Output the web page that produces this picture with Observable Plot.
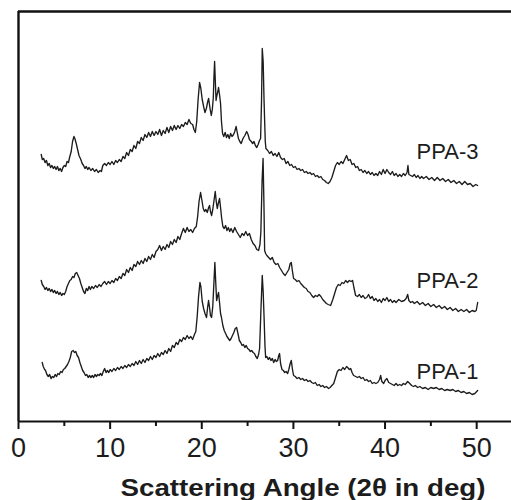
<!DOCTYPE html>
<html>
<head>
<meta charset="utf-8">
<script src="https://cdn.jsdelivr.net/npm/d3@7"></script>
<script src="https://cdn.jsdelivr.net/npm/@observablehq/plot@0.6"></script>
<style>
  html, body { margin: 0; background: #fff; overflow: hidden; }
  #chart svg { display: block; }
</style>
</head>
<body>
<div id="chart"></div>
<script>
// [scattering angle 2θ (deg), intensity (a.u.)]
const ppa3 = [[2.48,267],[2.6,262],[2.75,263],[2.9,259],[3.05,261],[3.2,256],[3.35,258],[3.5,254],[3.65,256],[3.8,253],[3.95,255],[4.1,252],[4.25,255],[4.4,251],[4.55,253],[4.7,250],[4.85,254],[5.0,256],[5.15,255],[5.3,260],[5.45,259],[5.6,265],[5.75,270],[5.9,280],[6.05,285],[6.15,283],[6.3,278],[6.45,272],[6.6,266],[6.8,262],[6.95,258],[7.1,256],[7.25,253],[7.4,255],[7.55,252],[7.7,254],[7.9,251],[8.1,253],[8.3,250],[8.5,252],[8.7,249],[8.9,251],[9.05,250],[9.2,256],[9.4,258],[9.6,256],[9.8,259],[10.0,257],[10.2,260],[10.4,257],[10.6,261],[10.8,259],[11.0,262],[11.2,260],[11.4,265],[11.6,263],[11.8,269],[12.0,266],[12.2,272],[12.4,270],[12.6,276],[12.8,273],[13.0,280],[13.2,278],[13.4,284],[13.6,281],[13.8,287],[14.0,284],[14.2,289],[14.4,285],[14.6,290],[14.8,286],[15.0,290],[15.2,287],[15.4,292],[15.6,286],[15.8,291],[16.0,288],[16.2,294],[16.4,289],[16.6,295],[16.8,291],[17.0,296],[17.2,292],[17.4,296],[17.6,293],[17.8,297],[18.0,295],[18.2,299],[18.4,297],[18.6,302],[18.8,298],[19.0,297],[19.15,292],[19.3,289],[19.45,300],[19.6,322],[19.76,339],[19.9,333],[20.05,322],[20.2,315],[20.35,309],[20.5,313],[20.65,320],[20.75,323],[20.9,313],[21.04,306],[21.15,312],[21.26,324],[21.33,345],[21.4,360],[21.48,340],[21.56,321],[21.65,326],[21.75,330],[21.83,334],[21.95,326],[22.05,318],[22.15,300],[22.27,288],[22.4,285],[22.55,289],[22.7,284],[22.85,287],[23.0,283],[23.15,288],[23.3,285],[23.47,287],[23.6,290],[23.75,295],[23.85,290],[24.0,283],[24.15,280],[24.3,278],[24.5,283],[24.7,286],[24.9,290],[25.05,287],[25.2,282],[25.4,280],[25.55,278],[25.7,280],[25.85,276],[26.0,274],[26.15,277],[26.3,281],[26.42,283],[26.52,320],[26.6,373],[26.7,360],[26.8,320],[26.86,301],[26.93,280],[27.0,273],[27.2,271],[27.4,268],[27.6,270],[27.8,266],[28.0,268],[28.2,265],[28.4,269],[28.6,264],[28.8,262],[29.0,263],[29.2,258],[29.4,260],[29.6,256],[29.8,257],[30.0,254],[30.2,255],[30.4,252],[30.6,253],[30.8,251],[31.0,252],[31.2,249],[31.4,250],[31.6,248],[31.8,249],[32.0,247],[32.2,248],[32.4,245],[32.6,246],[32.8,244],[33.0,245],[33.2,242],[33.4,241],[33.6,239],[33.8,238],[34.0,240],[34.2,244],[34.4,250],[34.6,256],[34.8,259],[35.0,257],[35.2,260],[35.4,258],[35.6,262],[35.8,266],[36.0,261],[36.2,262],[36.4,257],[36.6,258],[36.8,254],[37.0,255],[37.2,251],[37.4,252],[37.6,249],[37.8,251],[38.0,248],[38.2,250],[38.4,247],[38.6,249],[38.8,246],[39.0,248],[39.2,246],[39.4,250],[39.6,247],[39.8,252],[40.0,248],[40.2,252],[40.4,249],[40.6,247],[40.8,250],[41.0,246],[41.2,248],[41.4,245],[41.6,247],[41.8,245],[42.0,248],[42.2,246],[42.4,249],[42.5,256],[42.6,247],[42.8,246],[43.0,245],[43.2,247],[43.4,244],[43.6,246],[43.8,243],[44.0,245],[44.2,243],[44.5,245],[44.8,242],[45.1,244],[45.4,241],[45.7,244],[46.0,241],[46.3,243],[46.6,240],[46.9,242],[47.2,239],[47.5,241],[47.8,238],[48.1,240],[48.4,237],[48.7,240],[49.0,237],[49.3,238],[49.6,235],[49.9,237],[50.11,236]];

const ppa2 = [[2.48,141],[2.6,137],[2.75,135],[2.9,132],[3.05,134],[3.2,131],[3.35,133],[3.5,130],[3.65,132],[3.8,129],[3.95,131],[4.1,128],[4.25,130],[4.4,127],[4.55,129],[4.7,126],[4.85,128],[5.0,127],[5.15,130],[5.3,135],[5.45,138],[5.6,141],[5.75,142],[5.9,145],[6.05,144],[6.2,148],[6.35,149],[6.5,146],[6.65,143],[6.8,138],[6.95,134],[7.1,130],[7.25,128],[7.4,133],[7.55,131],[7.7,135],[7.85,132],[8.0,135],[8.2,133],[8.4,136],[8.6,134],[8.8,137],[9.0,135],[9.2,138],[9.4,140],[9.6,137],[9.8,140],[10.0,138],[10.2,141],[10.4,139],[10.6,143],[10.8,141],[11.0,145],[11.2,143],[11.4,148],[11.6,146],[11.8,152],[12.0,149],[12.2,154],[12.4,151],[12.6,157],[12.8,155],[13.0,160],[13.2,157],[13.4,161],[13.6,158],[13.8,163],[14.0,160],[14.2,165],[14.4,162],[14.6,167],[14.8,164],[15.0,170],[15.2,172],[15.4,176],[15.6,171],[15.8,175],[16.0,172],[16.2,177],[16.4,174],[16.6,180],[16.8,177],[17.0,182],[17.2,179],[17.4,185],[17.6,182],[17.8,188],[18.0,193],[18.2,189],[18.4,194],[18.6,190],[18.8,192],[19.0,189],[19.2,193],[19.4,195],[19.55,205],[19.7,220],[19.87,229],[20.0,222],[20.16,213],[20.3,210],[20.45,212],[20.6,209],[20.75,214],[20.85,216],[20.95,210],[21.07,206],[21.2,212],[21.35,222],[21.47,230],[21.58,220],[21.69,213],[21.8,218],[21.94,223],[22.05,214],[22.16,204],[22.3,195],[22.45,193],[22.6,196],[22.75,191],[22.9,194],[23.05,190],[23.2,193],[23.4,189],[23.6,194],[23.8,190],[24.0,187],[24.2,184],[24.4,188],[24.6,186],[24.8,190],[25.0,186],[25.2,188],[25.4,182],[25.6,178],[25.8,176],[26.0,172],[26.2,171],[26.35,177],[26.45,190],[26.58,240],[26.69,263],[26.78,220],[26.86,171],[26.97,168],[27.1,166],[27.3,164],[27.5,162],[27.7,164],[27.9,159],[28.1,157],[28.3,158],[28.5,154],[28.7,151],[28.9,148],[29.1,146],[29.3,149],[29.5,152],[29.65,158],[29.77,159],[29.9,150],[30.02,143],[30.2,142],[30.4,140],[30.6,141],[30.8,138],[31.0,136],[31.2,134],[31.4,133],[31.6,130],[31.8,129],[32.0,126],[32.2,124],[32.4,126],[32.6,125],[32.8,127],[33.0,125],[33.2,122],[33.4,120],[33.6,118],[33.8,117],[34.06,116],[34.3,122],[34.5,128],[34.7,134],[34.9,137],[35.1,136],[35.3,139],[35.5,138],[35.7,141],[35.9,139],[36.1,141],[36.3,140],[36.46,141],[36.6,134],[36.79,126],[37.0,125],[37.2,127],[37.4,124],[37.6,126],[37.8,123],[38.0,124],[38.2,127],[38.4,123],[38.6,125],[38.8,121],[39.0,123],[39.2,120],[39.4,122],[39.6,119],[39.8,123],[40.0,121],[40.2,124],[40.4,120],[40.6,122],[40.8,119],[41.0,121],[41.2,119],[41.5,122],[41.8,120],[42.1,121],[42.3,123],[42.47,127],[42.6,121],[42.8,119],[43.0,120],[43.2,118],[43.5,120],[43.8,117],[44.1,119],[44.4,116],[44.7,118],[45.0,115],[45.3,117],[45.6,114],[45.9,116],[46.2,113],[46.5,115],[46.8,112],[47.1,114],[47.4,111],[47.7,113],[48.0,110],[48.3,112],[48.6,110],[48.9,112],[49.2,109],[49.5,111],[49.8,110],[49.95,111],[50.11,119]];

const ppa1 = [[2.59,59],[2.7,55],[2.85,52],[2.95,51],[3.1,47],[3.25,45],[3.4,47],[3.55,43],[3.7,45],[3.85,44],[4.0,47],[4.15,45],[4.3,48],[4.45,47],[4.6,50],[4.75,49],[4.9,52],[5.05,53],[5.2,55],[5.35,57],[5.5,60],[5.65,64],[5.8,70],[5.97,71],[6.1,69],[6.25,70],[6.4,66],[6.55,64],[6.7,59],[6.85,55],[7.0,51],[7.15,49],[7.31,46],[7.45,47],[7.6,44],[7.75,46],[7.9,44],[8.05,46],[8.2,44],[8.35,47],[8.5,45],[8.65,47],[8.8,46],[8.95,48],[9.1,46],[9.25,50],[9.4,53],[9.55,49],[9.7,51],[9.85,49],[10.0,52],[10.2,50],[10.4,53],[10.6,51],[10.8,54],[11.0,52],[11.2,55],[11.4,53],[11.6,56],[11.8,54],[12.0,57],[12.2,55],[12.4,58],[12.6,56],[12.8,60],[13.0,57],[13.2,61],[13.4,58],[13.6,62],[13.8,59],[14.0,63],[14.2,61],[14.4,65],[14.6,62],[14.8,66],[15.0,64],[15.2,68],[15.4,65],[15.6,69],[15.8,67],[16.0,71],[16.2,68],[16.4,73],[16.6,70],[16.8,76],[17.0,74],[17.2,79],[17.4,77],[17.6,82],[17.8,80],[18.0,84],[18.2,82],[18.4,86],[18.6,83],[18.8,85],[19.0,82],[19.2,87],[19.35,90],[19.5,105],[19.65,125],[19.8,139],[19.9,135],[20.05,120],[20.2,113],[20.35,108],[20.52,104],[20.65,115],[20.74,121],[20.85,114],[20.95,106],[21.07,104],[21.2,115],[21.3,134],[21.43,159],[21.52,140],[21.62,121],[21.72,125],[21.83,129],[21.95,118],[22.05,108],[22.15,104],[22.3,96],[22.45,91],[22.6,88],[22.75,85],[22.9,83],[23.05,81],[23.2,83],[23.35,86],[23.5,89],[23.65,93],[23.8,94],[23.95,88],[24.1,81],[24.25,79],[24.4,76],[24.55,77],[24.7,74],[24.85,76],[25.0,73],[25.15,72],[25.3,70],[25.45,71],[25.6,69],[25.75,68],[25.9,65],[26.05,63],[26.2,67],[26.31,73],[26.45,110],[26.6,146],[26.7,130],[26.8,104],[26.9,75],[26.97,64],[27.1,65],[27.25,62],[27.4,64],[27.55,61],[27.7,63],[27.85,59],[28.0,62],[28.15,60],[28.28,61],[28.4,66],[28.49,68],[28.6,58],[28.75,52],[28.9,51],[29.05,49],[29.2,50],[29.37,48],[29.5,52],[29.65,58],[29.77,61],[29.9,52],[30.02,46],[30.2,45],[30.4,43],[30.6,44],[30.8,42],[31.0,43],[31.2,41],[31.4,42],[31.6,40],[31.8,41],[32.0,39],[32.2,38],[32.4,39],[32.6,36],[32.8,37],[33.0,35],[33.2,36],[33.4,34],[33.6,35],[33.84,33],[34.0,34],[34.2,36],[34.4,38],[34.6,44],[34.8,50],[35.0,52],[35.2,51],[35.4,54],[35.6,52],[35.8,55],[35.92,54],[36.1,52],[36.25,53],[36.4,49],[36.57,46],[36.8,45],[37.0,44],[37.2,45],[37.4,43],[37.6,44],[37.8,41],[38.0,42],[38.2,40],[38.4,41],[38.6,38],[38.8,39],[39.0,38],[39.2,39],[39.4,42],[39.52,46],[39.65,40],[39.85,38],[40.0,41],[40.2,43],[40.4,39],[40.6,38],[40.8,37],[41.0,36],[41.2,38],[41.4,36],[41.6,37],[41.8,36],[42.0,38],[42.2,37],[42.47,40],[42.7,38],[42.9,36],[43.1,35],[43.3,36],[43.56,34],[43.8,35],[44.1,33],[44.4,34],[44.7,32],[45.0,34],[45.3,33],[45.6,34],[45.9,32],[46.2,33],[46.5,31],[46.8,32],[47.1,31],[47.4,32],[47.7,30],[48.0,31],[48.3,29],[48.6,30],[48.9,28],[49.2,29],[49.5,27],[49.8,28],[50.11,31]];

const seriesNames = ["PPA-3", "PPA-2", "PPA-1"];
const labelAngle = [50.2, 50.2, 50.2];
const labelInt = [263, 134, 43];

const xTicks = [0, 10, 20, 30, 40, 50];
const xMinorTicks = [5, 15, 25, 35, 45];
const xLabel = "Scattering Angle (2θ in deg)";
const yTop = 410;

const rows = [];
[ppa3, ppa2, ppa1].forEach((s, k) => {
  s.forEach(([a, v]) => rows.push({series: seriesNames[k], angle: a, intensity: v}));
});
const labels = seriesNames.map((s, i) => ({s, angle: labelAngle[i], intensity: labelInt[i]}));

const ink = "#1c1c1c";
const plot = Plot.plot({
  width: 511,
  height: 500,
  marginLeft: 18,
  marginRight: 0,
  marginTop: 11,
  marginBottom: 79,
  style: {fontFamily: "'Liberation Sans', Arial, sans-serif", color: ink, background: "#fff"},
  x: {domain: [0, 53.8]},
  y: {domain: [0, yTop], axis: null},
  marks: [
    Plot.line(rows, {x: "angle", y: "intensity", z: "series", stroke: ink, strokeWidth: 1.35, strokeLinejoin: "round"}),
    Plot.text(labels, {x: "angle", y: "intensity", text: "s", textAnchor: "end", lineAnchor: "bottom", fontSize: 22, fill: ink}),
    Plot.text([xLabel], {frameAnchor: "bottom", dx: 38, dy: 74, lineAnchor: "bottom", fontSize: 23, fontWeight: "bold", fill: ink}),
    Plot.axisX({ticks: xTicks, tickSize: 0, tickPadding: 16, fontSize: 27, label: null, fill: ink}),
    Plot.ruleX(xMinorTicks, {y1: 0, y2: -5, stroke: "#111111", strokeWidth: 2}),
    Plot.ruleX(xTicks, {y1: 0, y2: -8, stroke: "#111111", strokeWidth: 2}),
    Plot.ruleY([0], {stroke: "#111111", strokeWidth: 2}),
    Plot.ruleX([0], {y1: 0, y2: yTop, stroke: "#111111", strokeWidth: 2.4}),
    Plot.ruleY([yTop], {stroke: "#111111", strokeWidth: 2.6})
  ]
});
document.getElementById("chart").appendChild(plot);
d3.select(plot).selectAll("text").filter(function() { return this.textContent === xLabel; })
  .attr("textLength", 365).attr("lengthAdjust", "spacingAndGlyphs");
</script>
</body>
</html>
